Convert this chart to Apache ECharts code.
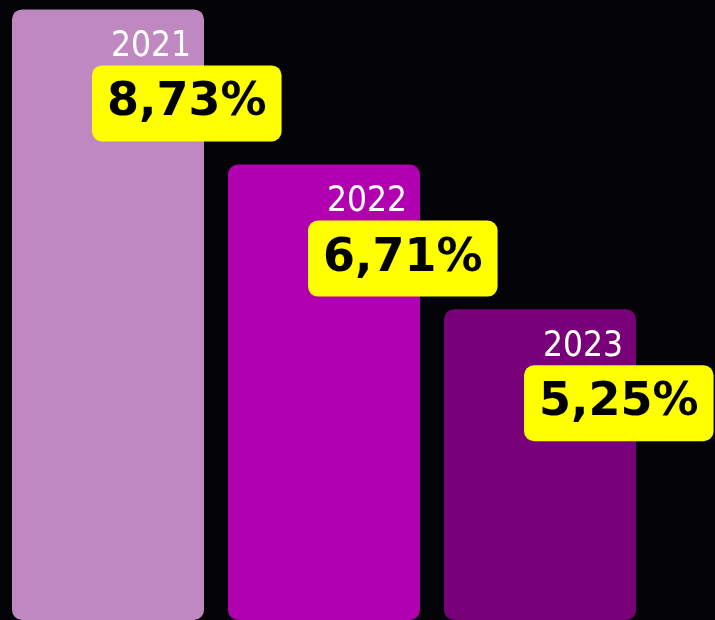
<!DOCTYPE html>
<html>
<head>
<meta charset="utf-8">
<script src="https://cdn.jsdelivr.net/npm/echarts@6/dist/echarts.min.js"></script>
<style>
  html, body { margin: 0; padding: 0; background: #040307; }
  #chart { width: 715px; height: 620px; }
</style>
</head>
<body>
<div id="chart"></div>
<script>
const categories = ['2021', '2022', '2023'];
const values = [8.73, 6.71, 5.25];
const valueLabels = ['8,73%', '6,71%', '5,25%'];

const chart = echarts.init(document.getElementById('chart'), null, { renderer: 'canvas' });

const option = {
  backgroundColor: '#040307',
  animation: false,
  color: ['#C088C0', '#B000B0', '#780078'],
  grid: { left: -4, right: 67, top: 0, bottom: 0, containLabel: false },
  xAxis: { type: 'category', data: categories, show: false },
  yAxis: { type: 'log', min: 3.1, max: 8.87, startValue: 3.1, show: false },
  series: [
    {
      type: 'bar',
      data: values,
      barWidth: 192,
      colorBy: 'data',
      itemStyle: { borderRadius: 10 },
      label: {
        show: true,
        position: ['100%', 0],
        align: 'right',
        verticalAlign: 'top',
        offset: [-13, 20],
        formatter: p => categories[p.dataIndex],
        color: '#ffffff',
        fontFamily: '"DejaVu Sans Condensed", "DejaVu Sans", sans-serif',
        fontSize: 35
      }
    },
    {
      type: 'bar',
      data: values,
      barWidth: 192,
      barGap: '-100%',
      itemStyle: { color: 'rgba(0,0,0,0)' },
      z: 5,
      label: {
        show: true,
        position: ['100%', 0],
        align: 'left',
        verticalAlign: 'top',
        offset: [-112, 56],
        formatter: p => valueLabels[p.dataIndex],
        backgroundColor: '#FFFF00',
        borderRadius: 10,
        padding: [15, 15, 15, 15],
        color: '#000000',
        fontWeight: 'bold',
        fontFamily: '"DejaVu Sans", sans-serif',
        fontSize: 46,
        lineHeight: 46
      }
    }
  ]
};
chart.setOption(option);
</script>
</body>
</html>
